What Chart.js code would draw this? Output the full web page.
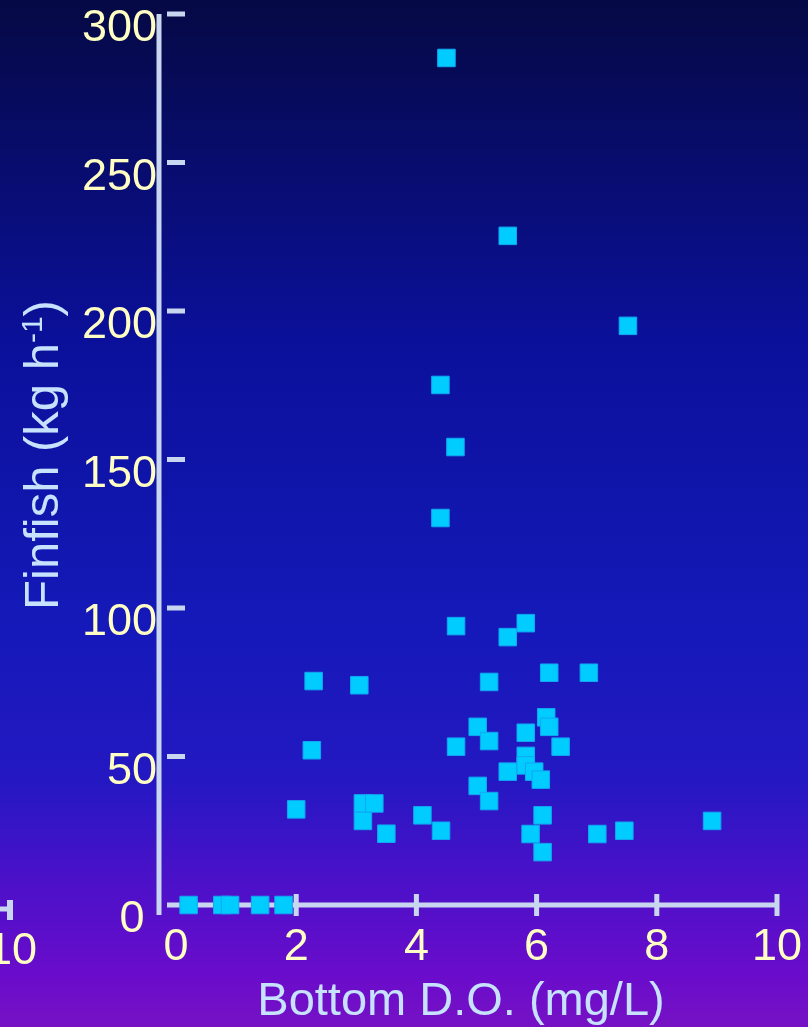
<!DOCTYPE html>
<html>
<head>
<meta charset="utf-8">
<script src="https://cdn.jsdelivr.net/npm/chart.js@4.4.1/dist/chart.umd.min.js"></script>
<style>
  html, body { margin: 0; padding: 0; background: #0a0e70; }
  #wrap { width: 808px; height: 1027px; }
</style>
</head>
<body>
<div id="wrap"><canvas id="finfishChart" width="808" height="1027"></canvas></div>
<script>
// --- data ---
const doValues = [4.5, 5.52, 7.52, 4.4, 4.65, 4.4, 4.66, 5.52, 5.82, 6.21, 6.87, 2.29, 3.05, 5.21,
  2.26, 5.02, 6.16, 6.21, 5.82, 5.21, 4.66, 6.4, 5.82, 5.82, 5.96, 5.52, 6.07, 5.02, 5.21, 4.1,
  4.41, 6.1, 5.9, 6.1, 7.01, 7.46, 8.92, 2.0, 3.11, 3.3, 3.11, 3.5, 0.21, 0.77, 0.9, 1.4, 1.79];
const finfishValues = [285.2, 225.3, 195.0, 175.1, 154.2, 130.3, 93.9, 90.2, 94.9, 78.2, 78.2, 75.4, 74.0, 75.1,
  52.1, 60.0, 63.2, 60.0, 58.0, 55.2, 53.3, 53.3, 50.2, 47.0, 44.9, 44.9, 42.2, 40.1, 35.0, 30.2,
  25.0, 30.2, 23.9, 17.8, 23.9, 25.0, 28.3, 32.2, 34.2, 34.2, 28.3, 24.0, 0, 0, 0, 0, 0];
const xTicks = [0, 2, 4, 6, 8, 10];
const yTicks = [0, 50, 100, 150, 200, 250, 300];
const xTitle = 'Bottom D.O. (mg/L)';
const yTitle = ['Finfish (kg h', '-1', ')'];

const FONT = '"Liberation Sans", Arial, sans-serif';
const tickColor = '#ffffc4';
const titleColor = '#c6e2ff';
const axisColor = '#c8d6f0';

const points = doValues.map((v, i) => ({ x: v, y: finfishValues[i] }));

// no automatic label padding, the plot box is fixed by hand
const noPad = s => { s.paddingTop = 0; s.paddingBottom = 0; s.paddingLeft = 0; s.paddingRight = 0; };

// background, hand-drawn axes, titles
const framePlugin = {
  id: 'frame',
  beforeDraw(chart) {
    const { ctx, width, height } = chart;
    const g = ctx.createLinearGradient(0, 0, 0, height);
    g.addColorStop(0, '#050944');
    g.addColorStop(0.33, '#0b109a');
    g.addColorStop(0.6, '#1419b8');
    g.addColorStop(0.76, '#2418c2');
    g.addColorStop(0.84, '#4512c8');
    g.addColorStop(0.95, '#6a0ccb');
    g.addColorStop(1, '#7612c4');
    ctx.save();
    ctx.fillStyle = g;
    ctx.fillRect(0, 0, width, height);
    ctx.restore();
  },
  beforeDatasetsDraw(chart) {
    const { ctx, scales: { x, y } } = chart;
    const line = (x1, y1, x2, y2) => { ctx.beginPath(); ctx.moveTo(x1, y1); ctx.lineTo(x2, y2); ctx.stroke(); };
    const y0 = y.getPixelForValue(0);
    const x0 = x.getPixelForValue(0);
    ctx.save();
    ctx.strokeStyle = axisColor;
    ctx.lineWidth = 5;
    // y axis sits left of x = 0, ticks point inward
    line(x0 - 17, y.getPixelForValue(300), x0 - 17, y0 + 10);
    yTicks.forEach(v => {
      if (v === 0) return;
      const p = y.getPixelForValue(v);
      line(x0 - 9, p, x0 + 9, p);
    });
    // x axis with crossing ticks
    line(x0 - 9, y0, x.getPixelForValue(10) + 2, y0);
    xTicks.forEach(v => {
      if (v === 0) return;
      const p = x.getPixelForValue(v);
      line(p, y0 - 11, p, y0 + 11);
    });
    // leftover axis end of the neighbouring panel
    line(0, y0 + 4, 10, y0 + 4);
    ctx.lineWidth = 6;
    line(10, y0 - 5, 10, y0 + 15);
    ctx.restore();
  },
  afterDraw(chart) {
    const { ctx } = chart;
    ctx.save();
    // neighbour's "10" label, cut by the left edge
    ctx.fillStyle = tickColor;
    ctx.font = '45px ' + FONT;
    ctx.textAlign = 'right';
    ctx.textBaseline = 'middle';
    ctx.fillText('10', 37, 952);

    // x title
    ctx.fillStyle = titleColor;
    ctx.font = '47px ' + FONT;
    ctx.textAlign = 'center';
    ctx.textBaseline = 'alphabetic';
    ctx.fillText(xTitle, 461, 1015);

    // y title with superscript
    ctx.translate(58, 455);
    ctx.rotate(-Math.PI / 2);
    const big = '49px ' + FONT, small = '30px ' + FONT;
    ctx.font = big;
    const w1 = ctx.measureText(yTitle[0]).width;
    const w3 = ctx.measureText(yTitle[2]).width;
    ctx.font = small;
    const w2 = ctx.measureText(yTitle[1]).width;
    let cx = -(w1 + w2 + w3) / 2;
    ctx.textAlign = 'left';
    ctx.font = big;
    ctx.fillText(yTitle[0], cx, 0);
    cx += w1;
    ctx.font = small;
    ctx.fillText(yTitle[1], cx, -16);
    cx += w2;
    ctx.font = big;
    ctx.fillText(yTitle[2], cx, 0);
    ctx.restore();
  }
};

new Chart(document.getElementById('finfishChart').getContext('2d'), {
  type: 'scatter',
  data: {
    datasets: [{
      data: points,
      pointStyle: 'rect',
      pointRadius: 12.4,
      pointHoverRadius: 12.4,
      backgroundColor: '#00ccff',
      borderColor: '#12a6f2',
      borderWidth: 1,
      clip: false
    }]
  },
  options: {
    responsive: false,
    animation: false,
    layout: { padding: { top: 14, right: 31, left: 0, bottom: 0 } },
    plugins: { legend: { display: false }, tooltip: { enabled: false } },
    scales: {
      x: {
        type: 'linear',
        min: 0, max: 10,
        afterFit: s => { s.height = 122; noPad(s); },
        afterBuildTicks: s => { s.ticks = xTicks.map(v => ({ value: v })); },
        grid: { display: false, drawTicks: false },
        border: { display: false },
        ticks: { color: tickColor, padding: 16, font: { size: 45, family: FONT }, maxRotation: 0 }
      },
      y: {
        type: 'linear',
        min: 0, max: 300,
        afterFit: s => { s.width = 176; noPad(s); },
        afterBuildTicks: s => { s.ticks = yTicks.map(v => ({ value: v })); },
        grid: { display: false, drawTicks: false },
        border: { display: false },
        ticks: {
          color: tickColor, padding: 19, labelOffset: 15,
          font: { size: 45, family: FONT },
          callback: v => (v === 0 ? '0 ' : String(v))
        }
      }
    }
  },
  plugins: [framePlugin]
});
</script>
</body>
</html>
